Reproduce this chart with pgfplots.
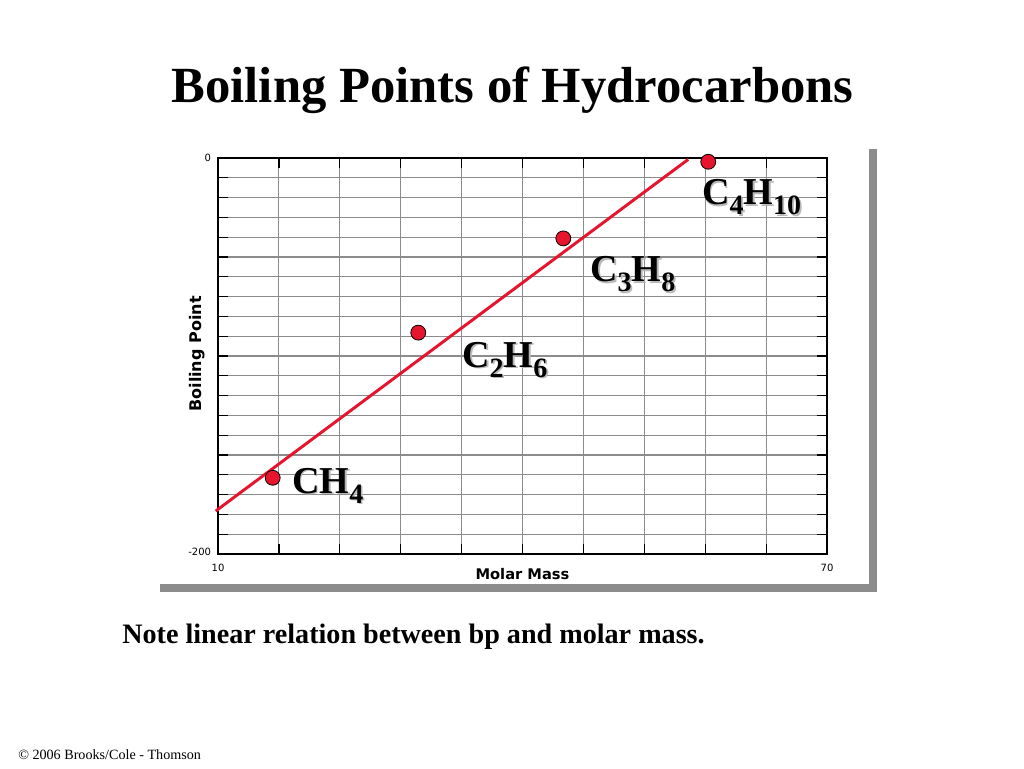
\documentclass[border=0pt]{standalone}
\usepackage{pgfplots}
\pgfplotsset{compat=1.18}
\usepackage{fontspec}
\setmainfont{Liberation Serif}
\newfontfamily\dejavu{DejaVu Sans}

\definecolor{bpred}{RGB}{230,20,45}
\definecolor{gridgray}{RGB}{140,140,140}
\definecolor{shadowgray}{RGB}{140,140,140}

% subscript for the formula labels
\newcommand\sub[1]{\raisebox{-7.5pt}{\fontsize{21}{21}\selectfont #1}}
% formula label with a soft drop shadow
\newcommand\lbl[3]{%
  \node[anchor=base west,inner sep=0pt,text=black!28,font=\bfseries\fontsize{28.5}{30}\selectfont]
    at ([xshift=1.3pt,yshift=-1.3pt]axis cs:#1,#2) {#3};
  \node[anchor=base west,inner sep=0pt,text=black,font=\bfseries\fontsize{28.5}{30}\selectfont]
    at (axis cs:#1,#2) {#3};}

\begin{document}
\begin{tikzpicture}
\useasboundingbox[fill=white] (0,0) rectangle (768pt,576pt);

% panel with shadow
\fill[shadowgray] (120pt,132pt) rectangle (657.75pt,464.25pt);
\fill[white] (112.5pt,138pt) rectangle (651.75pt,471pt);

\node[anchor=base,inner sep=0pt,font=\bfseries\fontsize{38}{40}\selectfont]
  at (384.4pt,498.75pt) {Boiling Points of Hydrocarbons};
\node[anchor=base west,inner sep=0pt,font=\bfseries\fontsize{21.1}{23}\selectfont]
  at (91.5pt,93.75pt) {Note linear relation between bp and molar mass.};
\node[anchor=base west,inner sep=0pt,font=\fontsize{10.6}{12}\selectfont]
  at (13.5pt,6.75pt) {© 2006 Brooks/Cole - Thomson};

\begin{axis}[
    at={(163.5pt,160.5pt)}, anchor=south west,
    width=456.75pt, height=297pt, scale only axis,
    xmin=10, xmax=70, ymin=-200, ymax=0,
    clip=false,
    axis line style={black,line width=1.2pt},
    xtick={10,16,...,70},
    xticklabels={10,{},{},{},{},{},{},{},{},{},70},
    ytick={-200,-190,...,0},
    yticklabels={\raisebox{4pt}{-200},{},{},{},{},{},{},{},{},{},{},{},{},{},{},{},{},{},{},{},\raisebox{-2pt}{0}},
    tick align=inside,
    major tick length=7.5pt,
    tick style={black,line width=0.9pt},
    grid=major,
    major grid style={gridgray,line width=0.8pt},
    xticklabel style={font=\dejavu\fontsize{7.5}{8}\selectfont,anchor=center,inner sep=0pt,yshift=-10.5pt},
    yticklabel style={font=\dejavu\fontsize{7.5}{8}\selectfont,anchor=east,inner sep=0pt,xshift=-5pt},
    xlabel={Molar Mass},
    xlabel style={font=\dejavu\bfseries\fontsize{11}{12}\selectfont,
      at={(axis description cs:0.5,0)},anchor=center,yshift=-15pt},
    ylabel={Boiling Point},
    ylabel style={font=\dejavu\bfseries\fontsize{12}{13}\selectfont,
      at={(axis description cs:0,0.5)},anchor=center,yshift=15.75pt,xshift=1.5pt},
]
% trend line
\addplot[bpred,line width=2.2pt] coordinates {(9.77,-178.3) (56.33,-0.7)};
% measured boiling points
\addplot[only marks,mark=*,mark size=5.6pt,
  mark options={fill=bpred,draw=black,line width=0.6pt}] coordinates {
  (15.39,-161.5)
  (29.73,-88.2)
  (44.02,-40.6)
  (58.30,-1.9)
};
\lbl{17.29}{-169.2}{CH\sub{4}}
\lbl{34.04}{-105.6}{C\sub{2}H\sub{6}}
\lbl{46.65}{-62.6}{C\sub{3}H\sub{8}}
\lbl{57.68}{-23.7}{C\sub{4}H\sub{10}}
\end{axis}
\end{tikzpicture}
\end{document}
